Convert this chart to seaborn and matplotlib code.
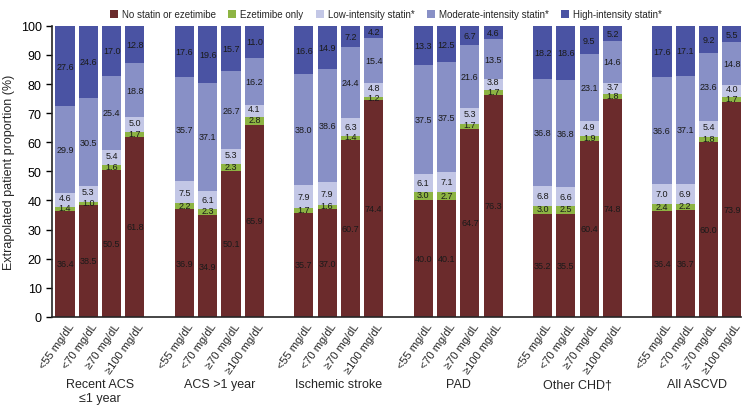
import numpy as np
import pandas as pd
import matplotlib.pyplot as plt
import matplotlib.transforms as mtransforms
import seaborn as sns
from matplotlib.patches import Patch

groups = ["Recent ACS\n≤1 year", "ACS >1 year", "Ischemic stroke", "PAD", "Other CHD†", "All ASCVD"]
ldl = ["<55 mg/dL", "<70 mg/dL", "≥70 mg/dL", "≥100 mg/dL"]
series = ["No statin or ezetimibe", "Ezetimibe only", "Low-intensity statin*",
          "Moderate-intensity statin*", "High-intensity statin*"]

# one value per bar: 6 groups x 4 LDL-C thresholds
no_statin = [36.4, 38.5, 50.5, 61.8,  36.9, 34.9, 50.1, 65.9,  35.7, 37.0, 60.7, 74.4,
             40.0, 40.1, 64.7, 76.3,  35.2, 35.5, 60.4, 74.8,  36.4, 36.7, 60.0, 73.9]
ezetimibe = [1.4, 1.0, 1.6, 1.7,  2.2, 2.3, 2.3, 2.8,  1.7, 1.6, 1.4, 1.2,
             3.0, 2.7, 1.7, 1.7,  3.0, 2.5, 1.9, 1.8,  2.4, 2.2, 1.8, 1.7]
low = [4.6, 5.3, 5.4, 5.0,  7.5, 6.1, 5.3, 4.1,  7.9, 7.9, 6.3, 4.8,
       6.1, 7.1, 5.3, 3.8,  6.8, 6.6, 4.9, 3.7,  7.0, 6.9, 5.4, 4.0]
moderate = [29.9, 30.5, 25.4, 18.8,  35.7, 37.1, 26.7, 16.2,  38.0, 38.6, 24.4, 15.4,
            37.5, 37.5, 21.6, 13.5,  36.8, 36.8, 23.1, 14.6,  36.6, 37.1, 23.6, 14.8]
high = [27.6, 24.6, 17.0, 12.8,  17.6, 19.6, 15.7, 11.0,  16.6, 14.9, 7.2, 4.2,
        13.3, 12.5, 6.7, 4.6,  18.2, 18.6, 9.5, 5.2,  17.6, 17.1, 9.2, 5.5]

colors = ["#6b2b2c", "#8db443", "#c3c7e6", "#8890c6", "#4a53a3"]

sns.set_style("ticks")
plt.rcParams['font.family'] = ['Liberation Sans', 'DejaVu Sans']

pos = [g * 5.12 + j for g in range(len(groups)) for j in range(len(ldl))]
df = pd.DataFrame({"pos": pos, "no_statin": no_statin, "ezetimibe": ezetimibe,
                   "low": low, "moderate": moderate, "high": high})
cols = ["no_statin", "ezetimibe", "low", "moderate", "high"]
cum = df[cols].cumsum(axis=1)

fig = plt.figure(figsize=(7.45, 4.06), dpi=100)
ax = fig.add_axes([0.07, 0.217, 0.925, 0.717])

# draw cumulative totals from the top down so lower layers cover upper ones
for k in reversed(range(len(cols))):
    sns.barplot(x=df["pos"], y=cum[cols[k]], native_scale=True, color=colors[k],
                saturation=1, width=0.82, errorbar=None, ax=ax, linewidth=0)

for i in range(len(df)):
    bottom = 0
    for c in cols:
        v = df[c][i]
        y = bottom + v / 2
        if c == "ezetimibe":
            y += 0.4
        if c == "low" and v < 5.5:
            y += 0.8
        ax.text(df["pos"][i], y, f"{v:.1f}", ha="center", va="center",
                fontsize=6.5, color="#1a1a1a")
        bottom += v

ax.set_xlim(-0.55, 29.0)
ax.set_ylim(0, 100)
ax.set_yticks(range(0, 101, 10))
ax.tick_params(axis="y", labelsize=9, length=4, width=1, colors="black")
ax.set_xticks(pos)
ax.set_xticklabels(ldl * len(groups), rotation=55, ha="right", rotation_mode="anchor", fontsize=8)
ax.tick_params(axis="x", length=0, pad=3)
shift = mtransforms.ScaledTranslation(2 / 72, 0, fig.dpi_scale_trans)
for lab in ax.get_xticklabels():
    lab.set_transform(lab.get_transform() + shift)
ax.set_xlabel("")
ax.set_ylabel("Extrapolated patient proportion (%)", fontsize=9)
sns.despine(ax=ax)
ax.spines["left"].set_linewidth(1.2)
ax.spines["bottom"].set_linewidth(1.2)

for g, name in enumerate(groups):
    ax.text(g * 5.12 + 1.5, -21, name, ha="center", va="top", fontsize=9,
            transform=ax.transData)

handles = [Patch(facecolor=colors[k], edgecolor="none", label=series[k]) for k in range(len(cols))]
fig.legend(handles=handles, loc="center", bbox_to_anchor=(0.518, 0.962), ncol=5, frameon=False,
           fontsize=7, handlelength=0.8, handleheight=0.8, handletextpad=0.4, columnspacing=1.3)

fig.savefig("out.png", dpi=100)
